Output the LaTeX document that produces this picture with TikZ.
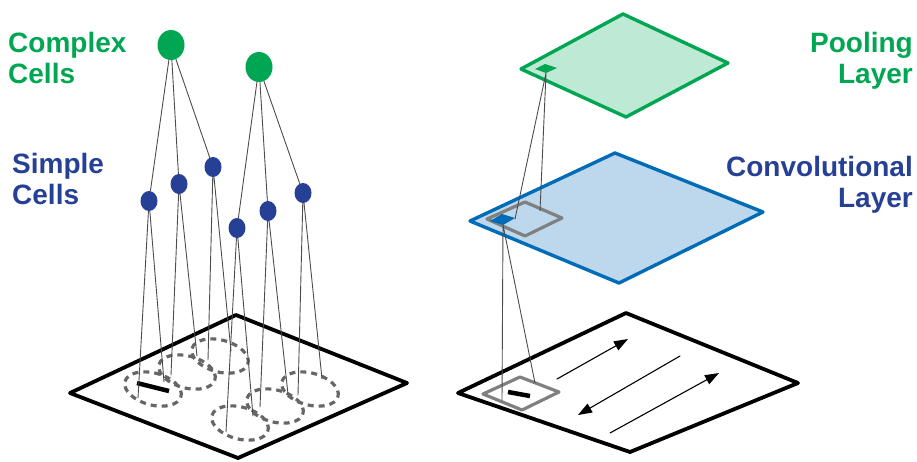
\documentclass[tikz,border=0pt]{standalone}
\usepackage{fontspec}
\setmainfont{Liberation Sans}
\usetikzlibrary{shapes.geometric,arrows.meta}
\definecolor{cgreen}{RGB}{0,166,81}
\definecolor{cblue}{RGB}{38,64,150}
\definecolor{lblue}{RGB}{0,107,182}
\definecolor{fblue}{RGB}{189,215,236}
\definecolor{fgreen}{RGB}{190,233,213}
\begin{document}
\begin{tikzpicture}[x=1pt, y=-1pt, font=\bfseries\fontsize{28}{31.5}\selectfont, line join=round, line cap=round,
		>={Triangle[length=14pt,width=10pt]},
		wire/.style={draw=black!70, line width=0.9pt},
		scell/.style={ellipse, fill=cblue, minimum width=17pt, minimum height=20pt, inner sep=0pt},
		ccell/.style={ellipse, fill=cgreen, minimum width=27pt, minimum height=30pt, inner sep=0pt},
		rfield/.style={draw=black!60, dash pattern=on 6pt off 5pt, line width=3.2pt, line cap=butt},
		sheet/.style={line width=3.8pt}]
	\useasboundingbox (0,0) rectangle (917,461);
	% left: input plane with receptive fields
	\draw[sheet] (70,393)--(236,315)--(407,383)--(238,458)--cycle;
	\foreach \x/\y in {153/389,187/372,220/356,240/423,275/406,310/389}{
		\draw[rfield,rotate around={-15:(\x,\y)}] (\x,\y) ellipse [x radius=29pt, y radius=16pt];}
	\draw[line width=4.5pt, line cap=butt] (137,383)--(169,391);
	\foreach \n/\x/\y in {1/149/201,2/179/184,3/213/167,4/237/228,5/268/211,6/303/193}
		\node[scell] (s\n) at (\x,\y) {};
	\node[ccell] (c1) at (171,45) {};
	\node[ccell] (c2) at (259,67) {};
	\foreach \n/\a/\b/\c/\d in {1/138/398/164/382,2/171/375/197/356,3/208/360/231/351,4/226/432/253/416,5/260/407/288/394,6/298/395/322/379}{
		\coordinate (f\n a) at (\a,\b); \coordinate (f\n b) at (\c,\d);
		\draw[wire] (s\n)--(f\n a) (s\n)--(f\n b);}
	\foreach \s in {1,2,3} \draw[wire] (c1)--(s\s);
	\foreach \s in {4,5,6} \draw[wire] (c2)--(s\s);
	\node[text=cgreen, align=left, anchor=north west, inner sep=0pt] (cxl) at (8,32) {Complex\\Cells};
	\node[text=cblue, align=left, anchor=north west, inner sep=0pt] (sml) at (12,153) {Simple\\Cells};
	% right: input, convolutional and pooling layers
	\draw[sheet] (458,393)--(626,313)--(798,383)--(630,452)--cycle;
	\draw[->, line width=1.1pt] (557,379)--(628,339);
	\draw[->, line width=1.1pt] (680,356)--(578,415);
	\draw[->, line width=1.1pt] (610,433)--(719,373);
	\draw[gray, line width=3.2pt] (483,394)--(520,377)--(559,392)--(522,410)--cycle;
	\draw[line width=4.5pt, line cap=butt] (508,392)--(530,396);
	\draw[line width=3.4pt, draw=lblue, fill=fblue] (470,221)--(615,153)--(763,212)--(619,283)--cycle;
	\draw[gray, line width=3.2pt] (487,219)--(525,202)--(562,218)--(525,236)--cycle;
	\fill[lblue] (490,221)--(502,214)--(515,218)--(503,225)--cycle;
	\draw[line width=3.4pt, draw=cgreen, fill=fgreen] (521,69)--(623,14)--(728,63)--(626,117)--cycle;
	\fill[cgreen] (535,69)--(545,64)--(557,68)--(546,73)--cycle;
	\coordinate (pu) at (546,73); \coordinate (ge) at (540,211); \coordinate (cr) at (515,219);
	\coordinate (cu) at (503,225); \coordinate (ra) at (502,400); \coordinate (rb) at (535,383);
	\draw[wire] (pu)--(ge) (pu)--(cr) (cu)--(ra) (cu)--(rb);
	\node[text=cgreen, align=right, anchor=north east, inner sep=0pt] (pll) at (913,32) {Pooling\\Layer};
	\node[text=cblue, align=right, anchor=north east, inner sep=0pt] (cvl) at (913,156) {Convolutional\\Layer};
\end{tikzpicture}
\end{document}
